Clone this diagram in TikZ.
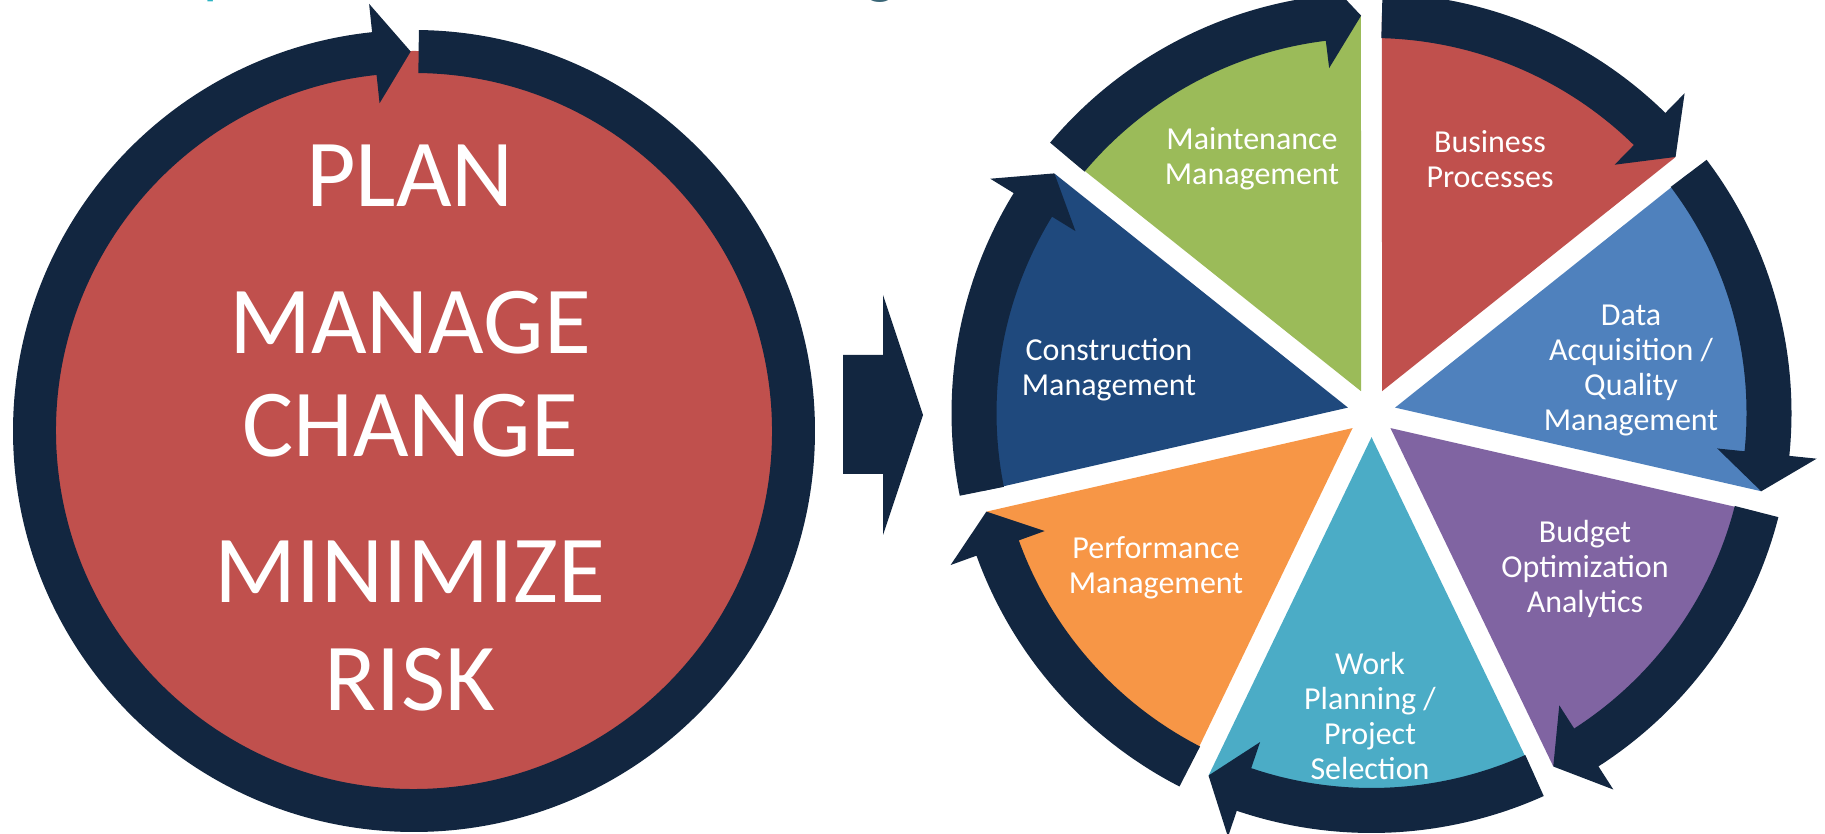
\documentclass[tikz,border=0pt]{standalone}
\usepackage{fontspec}
\setmainfont{Carlito}
\usepackage{tikz}
\definecolor{navy}{HTML}{122640}
\definecolor{bizred}{HTML}{C0504D}
\definecolor{datablue}{HTML}{4F81BD}
\definecolor{budgetpurple}{HTML}{8064A2}
\definecolor{workteal}{HTML}{4BACC6}
\definecolor{perforange}{HTML}{F79646}
\definecolor{constrblue}{HTML}{1F497D}
\definecolor{maintgreen}{HTML}{9BBB59}
\definecolor{titleteal}{HTML}{2BB3C3}
\definecolor{titleslate}{HTML}{3A6677}

\begin{document}
\begin{tikzpicture}[x=0.5pt,y=0.5pt,
    bigword/.style={white, inner sep=0, anchor=base, font=\fontsize{48}{52}\selectfont},
    steplabel/.style={white, inner sep=0, align=center, font=\fontsize{16}{17.5}\selectfont}]
    \useasboundingbox (0,0) rectangle (1825,834);
    \clip (0,0) rectangle (1825,834);

    % Title line, cut off by the top edge
    \node[anchor=base west, inner sep=0, titleteal, font=\fontsize{32}{38}\selectfont] (titlep) at (203,842) {p};
    \node[anchor=base west, inner sep=0, titleslate, font=\fontsize{32}{38}\selectfont] (titleg) at (865,842) {g};

    % Left circle with its ring arrow
    \fill[bizred] (414,403) circle (380);
    \fill[navy, shift={(414,403)}] (89.3:401) arc (89.3:-264:401) -- (-264:429.5) -- (-269.5:379.5)
        -- (-264:329.5) -- (-264:358) arc (-264:89.3:358) -- cycle;

    \node[bigword] (plan) at (410,627) {PLAN};
    \node[bigword] (manage) at (410,480) {MANAGE};
    \node[bigword] (change) at (410,377) {CHANGE};
    \node[bigword] (minimize) at (410,231) {MINIMIZE};
    \node[bigword] (risk) at (410,123) {RISK};

    % Arrow between the two circles
    \fill[navy] (843,479) -- (883,479) -- (883,539) -- (923,419) -- (883,299) -- (883,360) -- (843,360) -- cycle;

    % Wheel: seven segments, 360/7 degrees each
    \begin{scope}[shift={(1371.5,421)}]
    \fill[bizred] (64.29:24.2) -- (40.09:397) arc (40.09:88.49:397) -- cycle;
    \fill[datablue] (12.86:24.2) -- (-11.35:397) arc (-11.35:37.06:397) -- cycle;
    \fill[budgetpurple] (-38.57:24.2) -- (-62.78:397) arc (-62.78:-14.38:397) -- cycle;
    \fill[workteal] (-90:24.2) -- (-114.2:397) arc (-114.2:-65.8:397) -- cycle;
    \fill[perforange] (-141.43:24.2) -- (-165.63:397) arc (-165.63:-117.23:397) -- cycle;
    \fill[constrblue] (167.14:24.2) -- (142.94:397) arc (142.94:191.35:397) -- cycle;
    \fill[maintgreen] (115.71:24.2) -- (91.52:397) arc (91.52:139.92:397) -- cycle;

    % Ring arrows, clockwise
    \def\rin{375}
    \def\rout{420}
    \fill[navy] (88.5:\rout) arc (88.5:45.6:\rout) -- (45.6:447.5) -- (40.1:397.5) -- (45.6:347.5)
        -- (45.6:\rin) arc (45.6:88.5:\rin) -- cycle;
    \fill[navy] (37.07:\rout) arc (37.07:-5.86:\rout) -- (-5.86:447.5) -- (-11.36:397.5) -- (-5.86:347.5)
        -- (-5.86:\rin) arc (-5.86:37.07:\rin) -- cycle;
    \fill[navy] (-14.36:\rout) arc (-14.36:-57.29:\rout) -- (-57.29:447.5) -- (-62.79:397.5) -- (-57.29:347.5)
        -- (-57.29:\rin) arc (-57.29:-14.36:\rin) -- cycle;
    \fill[navy] (-65.79:\rout) arc (-65.79:-108.71:\rout) -- (-108.71:447.5) -- (-114.21:397.5) -- (-108.71:347.5)
        -- (-108.71:\rin) arc (-108.71:-65.79:\rin) -- cycle;
    \fill[navy] (-117.21:\rout) arc (-117.21:-160.14:\rout) -- (-160.14:447.5) -- (-165.64:397.5) -- (-160.14:347.5)
        -- (-160.14:\rin) arc (-160.14:-117.21:\rin) -- cycle;
    \fill[navy] (191.36:\rout) arc (191.36:148.43:\rout) -- (148.43:447.5) -- (142.93:397.5) -- (148.43:347.5)
        -- (148.43:\rin) arc (148.43:191.36:\rin) -- cycle;
    \fill[navy] (139.93:\rout) arc (139.93:97:\rout) -- (97:447.5) -- (91.5:397.5) -- (97:347.5)
        -- (97:\rin) arc (97:139.93:\rin) -- cycle;
    \end{scope}

    % Segment labels
    \node[steplabel] (maint) at (1252,675) {Maintenance\\Management};
    \node[steplabel] (business) at (1490,675) {Business\\Processes};
    \node[steplabel] (data) at (1631,464) {Data\\Acquisition /\\Quality\\Management};
    \node[steplabel] (budget) at (1585,265) {Budget\\Optimization\\Analytics};
    \node[steplabel] (work) at (1370,118) {Work\\Planning /\\Project\\Selection};
    \node[steplabel] (perf) at (1156,266) {Performance\\Management};
    \node[steplabel] (constr) at (1109,464) {Construction\\Management};

\end{tikzpicture}
\end{document}
